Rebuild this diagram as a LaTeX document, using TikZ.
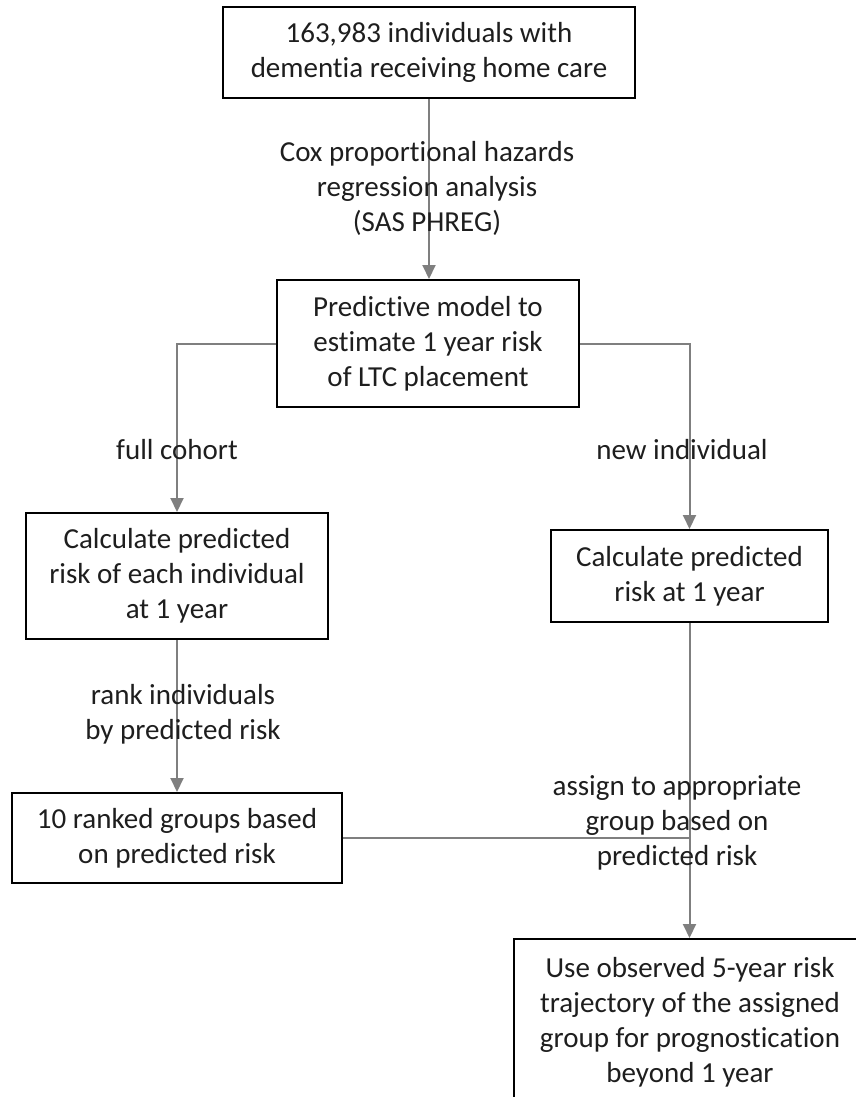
\documentclass[tikz,border=0pt]{standalone}
\usepackage{fontspec}
\setmainfont[Ligatures=NoCommon]{Carlito}
\usetikzlibrary{arrows.meta}
\definecolor{linkgray}{HTML}{7F7F7F}
\definecolor{inkgray}{HTML}{1E1E1E}
\begin{document}
\begin{tikzpicture}[x=1pt,y=-1pt,
  every node/.style={font=\fontsize{29}{35}\selectfont, align=center, inner sep=0pt, text=inkgray},
  stagebox/.style={draw=black, line width=2pt, fill=white},
  link/.style={draw=linkgray, line width=2pt},
  flow/.style={link, -{Triangle[length=14pt,width=13pt]}}]
\useasboundingbox (0,0) rectangle (856,1097);
\clip (0,0) rectangle (856,1097);

% stages
\node[stagebox, minimum width=412, minimum height=91] (cohort) at (429,52.5)
  {163,983 individuals with\\dementia receiving home care};
\node[stagebox, minimum width=302, minimum height=127] (model) at (428,343.5)
  {Predictive model to\\estimate 1 year risk\\of LTC placement};
\node[stagebox, minimum width=302, minimum height=126] (calcall) at (177,576)
  {Calculate predicted\\risk of each individual\\at 1 year};
\node[stagebox, minimum width=277, minimum height=92] (calcnew) at (689.5,576)
  {Calculate predicted\\risk at 1 year};
\node[stagebox, minimum width=330, minimum height=90] (ranked) at (177,838)
  {10 ranked groups based\\on predicted risk};
\node[stagebox, minimum width=352, minimum height=172, anchor=north] (use) at (690,938) {};
\node at (690,1022.5) (usetext)
  {Use observed 5-year risk\\trajectory of the assigned\\group for prognostication\\beyond 1 year};

% connectors
\draw[flow] (cohort.south) -- (cohort.south |- model.north);
\draw[flow] (model.west) -| (calcall.north);
\draw[flow] (model.east) -| (calcnew.north);
\draw[flow] (calcall.south) -- (ranked.north);
\draw[flow] (calcnew.south) -- (calcnew.south |- use.north);
\coordinate (join) at (ranked.east -| calcnew.south);
\draw[link] (ranked.east) -- (join);

% connector labels
\node (coxlbl) at (427,188) {Cox proportional hazards\\regression analysis\\(SAS PHREG)};
\node (fulllbl) at (177,450) {full cohort};
\node (newlbl) at (682,450) {new individual};
\node (ranklbl) at (183,714) {rank individuals\\by predicted risk};
\node (assignlbl) at (677,823) {assign to appropriate\\group based on\\predicted risk};
\end{tikzpicture}
\end{document}
